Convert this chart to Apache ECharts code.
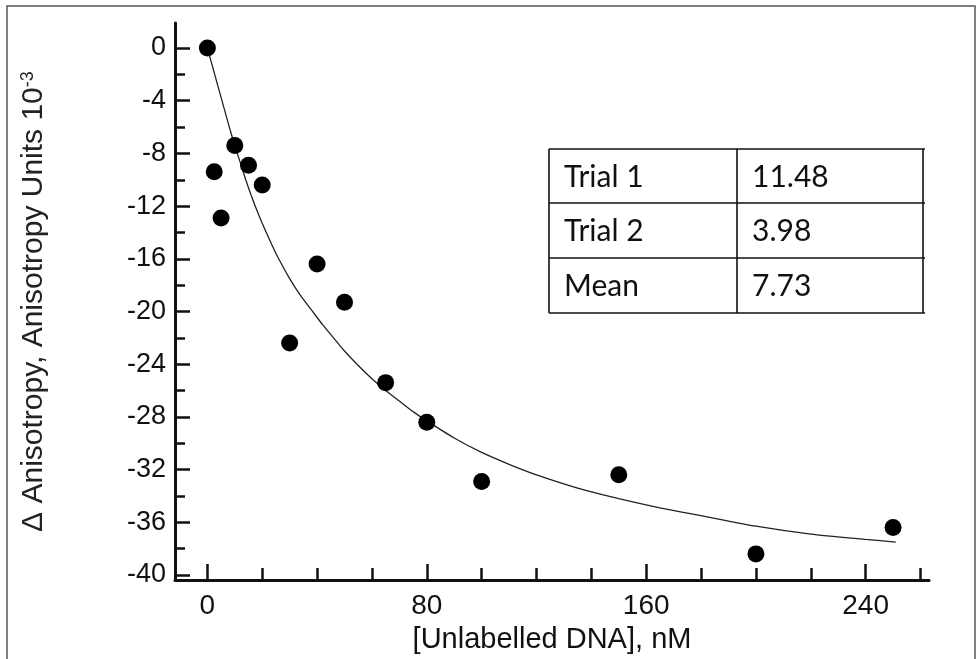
<!DOCTYPE html>
<html>
<head>
<meta charset="utf-8">
<script src="https://cdn.jsdelivr.net/npm/echarts@6/dist/echarts.min.js"></script>
<style>
	html, body { margin: 0; padding: 0; background: #fff; }
	#anisotropy { width: 980px; height: 659px; }
</style>
</head>
<body>
<div id="anisotropy"></div>
<script>
	// measured points
	let concX = [0, 2.5, 5, 10, 15, 20, 30, 40, 50, 65, 80, 100, 150, 200, 250]
	let dAniso = [0, -9.4, -12.9, -7.4, -8.9, -10.4, -22.4, -16.4, -19.3, -25.4, -28.4, -32.9, -32.4, -38.4, -36.4]
	// fitted curve
	let fitX = [0, 2, 4, 6, 8, 10, 12, 14, 16, 18, 20, 23, 26, 30, 34, 38, 42, 46, 50, 55, 60, 65, 70, 75, 80, 90, 100, 110, 120, 135, 150, 165, 180, 200, 220, 240, 251]
	let fitY = [0, -1.5, -3.0, -4.5, -6.0, -7.4, -8.7, -10.0, -11.2, -12.3, -13.3, -14.7, -16.0, -17.5, -18.8, -19.9, -21.0, -22.0, -23.0, -24.1, -25.1, -26.0, -26.8, -27.6, -28.3, -29.6, -30.7, -31.6, -32.4, -33.4, -34.2, -34.9, -35.5, -36.3, -36.9, -37.3, -37.5]
	// ticks
	let xMajor = [0, 80, 160, 240]
	let xMinor = [20, 40, 60, 100, 120, 140, 180, 200, 220, 260]
	let yMajor = [0, -4, -8, -12, -16, -20, -24, -28, -32, -36, -40]
	let yMinor = [-2, -6, -10, -14, -18, -22, -26, -30, -34, -38]
	// inset table
	let tableLabels = ['Trial 1', 'Trial 2', 'Mean']
	let tableValues = ['11.48', '3.98', '7.73']

	let chart = echarts.init(document.getElementById('anisotropy'))
	let ink = '#111'
	let font = '"Liberation Sans", Arial, sans-serif'
	let tableFont = '30px Lato, "Open Sans", sans-serif'

	let colX = [549, 737, 923]
	let rowY = [149, 203, 258, 313]
	let graphic = []
	// outer frame
	graphic.push({
		type: 'polyline',
		shape: { points: [[7, 670], [7, 6], [975, 6], [975, 670]] },
		style: { stroke: '#555', lineWidth: 1.5, fill: null }
	})
	colX.forEach(function(x) {
		graphic.push({ type: 'line', shape: { x1: x, y1: rowY[0], x2: x, y2: rowY[3] }, style: { stroke: ink, lineWidth: 1.6 } })
	})
	rowY.forEach(function(y) {
		graphic.push({ type: 'line', shape: { x1: colX[0], y1: y, x2: colX[2] + 2, y2: y }, style: { stroke: ink, lineWidth: 1.6 } })
	})
	tableLabels.forEach(function(label, i) {
		let cy = (rowY[i] + rowY[i + 1]) / 2 + 1
		graphic.push({ type: 'text', x: colX[0] + 15, y: cy, style: { text: label, font: tableFont, fill: ink, verticalAlign: 'middle' } })
		graphic.push({ type: 'text', x: colX[1] + 15, y: cy, style: { text: tableValues[i], font: tableFont, fill: ink, verticalAlign: 'middle' } })
	})

	let fitData = fitX.map(function(x, i) { return [x, fitY[i]] })
	let pointData = concX.map(function(x, i) { return [x, dAniso[i]] })

	chart.setOption({
		animation: false,
		backgroundColor: '#fff',
		graphic: graphic,
		grid: {
			left: 175,
			right: 51,
			top: 23,
			bottom: 75
		},
		xAxis: [{
			type: 'value',
			position: 'bottom',
			min: -11.8,
			max: 263.1,
			name: '[Unlabelled DNA], nM',
			nameLocation: 'middle',
			nameGap: 43,
			nameTextStyle: { color: ink, fontSize: 29, fontFamily: font },
			axisLine: { show: true, onZero: false, lineStyle: { color: ink, width: 3 } },
			axisTick: { show: true, inside: true, length: 16, customValues: xMajor, lineStyle: { color: ink, width: 2.5 } },
			axisLabel: { show: true, customValues: xMajor, margin: 12, color: ink, fontSize: 28, fontFamily: font },
			splitLine: { show: false }
		}, {
			type: 'value',
			position: 'bottom',
			min: -11.8,
			max: 263.1,
			axisLine: { show: false, onZero: false },
			axisTick: { show: true, inside: true, length: 12, customValues: xMinor, lineStyle: { color: ink, width: 2.5 } },
			axisLabel: { show: false },
			splitLine: { show: false }
		}],
		yAxis: [{
			type: 'value',
			position: 'left',
			min: -40.39,
			max: 1.9,
			name: '{t|Δ Anisotropy, Anisotropy Units 10}{s|-3}',
			nameLocation: 'middle',
			nameGap: 126,
			nameTextStyle: {
				rich: {
					t: { color: '#222', fontSize: 30, fontFamily: font },
					s: { color: '#222', fontSize: 18, fontFamily: font, verticalAlign: 'top' }
				}
			},
			axisLine: { show: true, onZero: false, lineStyle: { color: ink, width: 3 } },
			axisTick: { show: true, inside: true, length: 15, customValues: yMajor, lineStyle: { color: ink, width: 2.5 } },
			axisLabel: { show: true, customValues: yMajor, margin: 9, color: ink, fontSize: 27, fontFamily: font },
			splitLine: { show: false }
		}, {
			type: 'value',
			position: 'left',
			min: -40.39,
			max: 1.9,
			axisLine: { show: false, onZero: false },
			axisTick: { show: true, inside: true, length: 10, customValues: yMinor, lineStyle: { color: ink, width: 2.5 } },
			axisLabel: { show: false },
			splitLine: { show: false }
		}],
		series: [{
			name: 'fit',
			type: 'line',
			data: fitData,
			smooth: 0.2,
			showSymbol: false,
			lineStyle: { color: '#222', width: 1.3 },
			z: 2
		}, {
			name: 'points',
			type: 'scatter',
			data: pointData,
			symbol: 'circle',
			symbolSize: 17,
			itemStyle: { color: '#000', opacity: 1 },
			z: 3
		}]
	})
</script>
</body>
</html>
